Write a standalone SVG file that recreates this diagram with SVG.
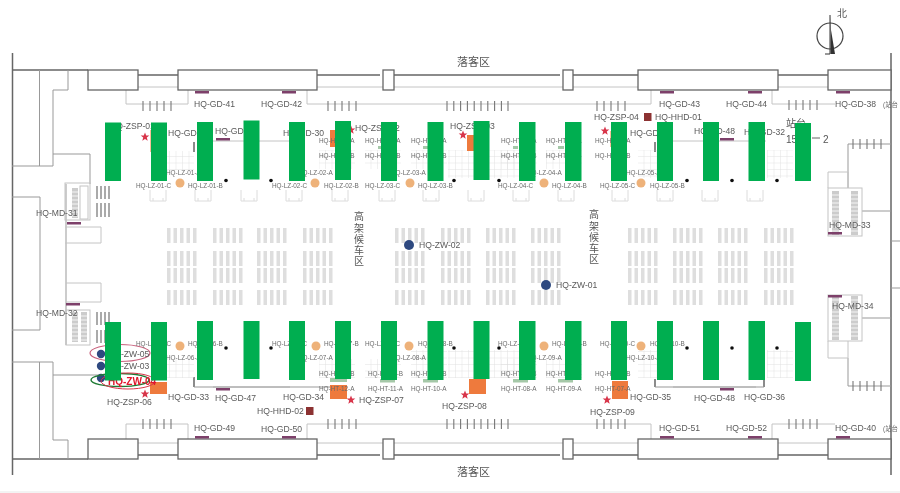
<svg xmlns="http://www.w3.org/2000/svg" xmlns:xlink="http://www.w3.org/1999/xlink" width="900" height="493" viewBox="0 0 900 493">
<style>
text{font-family:"Liberation Sans","Noto Sans CJK SC",sans-serif;fill:#5a5a5a}
.t{font-size:8.6px}
.s{font-size:6.4px;fill:#6a6a6a}
.c{font-size:10px;fill:#555}
.box{fill:#fff;stroke:#666;stroke-width:1.3}
.dk{fill:none;stroke:#666;stroke-width:1.5}
.lt{fill:none;stroke:#c4c4c4;stroke-width:1}
.md{fill:none;stroke:#999;stroke-width:1}
.tk{stroke:#777;stroke-width:1.1;fill:none}
.pu{fill:#7d3f6b}
.or{fill:#ee7a3c}
.orl{fill:#f6c09a}
.ci{fill:#eeb27a}
.dot{fill:#111}
.zw{fill:#2f4a80}
.rd{fill:#d8344a}
.sq{fill:#8c3232}
.st{fill:#dedede}
.br{fill:none;stroke:#dcdcdc;stroke-width:1}
.hg{fill:#a5c8a8}
.g{fill:#00ae50}
</style>
<defs>
<filter id="soft" filterUnits="userSpaceOnUse" x="0" y="0" width="900" height="493"><feGaussianBlur stdDeviation="0.45"/></filter>
<pattern id="grid" width="6.5" height="6.5" patternUnits="userSpaceOnUse"><path d="M0 0H6.5M0 0V6.5" fill="none" stroke="#dcdcdc" stroke-width="0.8"/></pattern>
<g id="row"><rect x="0" width="3.500" height="15" class="st"/><rect x="6.500" width="3.500" height="15" class="st"/><rect x="13" width="3.500" height="15" class="st"/><rect x="19.500" width="3.500" height="15" class="st"/><rect x="26" width="3.500" height="15" class="st"/></g>
<g id="block"><use xlink:href="#row" y="228"/><use xlink:href="#row" y="251"/><use xlink:href="#row" y="268"/><use xlink:href="#row" y="290"/></g>
<g id="t5"><path class="tk" d="M0 0v10M7 0v10M14 0v10M21 0v10M28 0v10"/></g>
<g id="t10"><path class="tk" d="M0 0v10M6.800 0v10M13.600 0v10M20.400 0v10M27.200 0v10M34 0v10M40.800 0v10M47.600 0v10M54.400 0v10M61 0v10"/></g>
<g id="brk"><path class="br" d="M0 2v11h16V2M3 13v-3M13 13v-3"/></g>
<g id="stair"><rect x="0" y="0" width="7" height="44" fill="#ccc"/><path d="M0 4h7M0 8h7M0 12h7M0 16h7M0 20h7M0 24h7M0 28h7M0 32h7M0 36h7M0 40h7" stroke="#fff" stroke-width="0.8"/></g>
<g id="stair2"><rect x="0" y="0" width="6" height="30" fill="#ccc"/><path d="M0 4h6M0 8h6M0 12h6M0 16h6M0 20h6M0 24h6M0 28h6" stroke="#fff" stroke-width="0.8"/></g>
<polygon id="star" points="0,-4.5 1.2,-1.4 4.3,-1.4 1.8,.6 2.7,3.7 0,1.9 -2.7,3.7 -1.8,.6 -4.3,-1.4 -1.2,-1.4"/>
</defs>
<rect width="900" height="493" fill="#fff"/>
<rect y="491" width="900" height="2" fill="#f3f3f3"/>
<g id="plan" filter="url(#soft)">
<g id="connectors">
<path class="dk" d="M12.500 53V475M891 53V475M12 70H88M12 459H88"/>
<path class="dk" d="M138 75H178M317 75H380M394 75H560M573 75H638M778 75H828M138 455H178M317 455H380M394 455H560M573 455H638M778 455H828"/>
<path class="lt" d="M138 87H178M317 87H383M394 87H563M573 87H638M778 87H828M138 443H178M317 443H383M394 443H563M573 443H638M778 443H828"/>
<path class="lt" d="M126 90V104H188V90M307 90V104H651V90M772 90V104H835M126 440V424H188V440M307 440V424H651V440M772 440V424H835"/>
<path class="md" d="M39.500 70V166M53 90V166M53 90H68V70M12 166H53M53 154H90V184M12 197H40V330H12M66 184V345M39.500 362V459M53 362V440H68V459M12 362H53M53 375H105M848 144H891M848 144V188M862 211H891M848 386H891M848 358V386M862 318H891M891 241H900M891 288H900"/>
<path class="lt" d="M213 141H290M673 141H766M213 387H290M673 387H756"/>
<path class="dk" d="M194 142V152M655 142V152M764 142V152M194 377V387M655 379V387M764 379V387" stroke-width="1.2"/>
<path class="md" d="M194 387H333M655 387H764" stroke="#bbb"/>
</g>
<g id="seats">
<use xlink:href="#block" x="167"/><use xlink:href="#block" x="213"/><use xlink:href="#block" x="257"/><use xlink:href="#block" x="303"/>
<use xlink:href="#block" x="395"/><use xlink:href="#block" x="441"/><use xlink:href="#block" x="486"/><use xlink:href="#block" x="531"/>
<use xlink:href="#block" x="628"/><use xlink:href="#block" x="673"/><use xlink:href="#block" x="718"/><use xlink:href="#block" x="764"/>
</g>
<g id="grids" fill="url(#grid)">
<rect x="167" y="151" width="27" height="19"/><rect x="319" y="150" width="36" height="19"/><rect x="365" y="150" width="36" height="19"/><rect x="411" y="150" width="36" height="19"/><rect x="448" y="150" width="26" height="28"/><rect x="489" y="150" width="30" height="28"/><rect x="501" y="150" width="36" height="19"/><rect x="546" y="150" width="36" height="19"/><rect x="638" y="150" width="19" height="28"/><rect x="767" y="150" width="26" height="28"/>
<rect x="167" y="359" width="27" height="19"/><rect x="319" y="359" width="36" height="19"/><rect x="365" y="359" width="36" height="19"/><rect x="411" y="350" width="36" height="28"/><rect x="448" y="350" width="26" height="28"/><rect x="489" y="350" width="30" height="28"/><rect x="501" y="359" width="36" height="19"/><rect x="546" y="359" width="36" height="19"/><rect x="638" y="350" width="19" height="28"/><rect x="767" y="350" width="26" height="28"/>
</g>
<g id="brackets">
<use xlink:href="#brk" x="150" y="188"/><use xlink:href="#brk" x="195" y="188"/><use xlink:href="#brk" x="241" y="188"/><use xlink:href="#brk" x="286" y="188"/><use xlink:href="#brk" x="332" y="188"/><use xlink:href="#brk" x="379" y="188"/><use xlink:href="#brk" x="423" y="188"/><use xlink:href="#brk" x="468" y="188"/><use xlink:href="#brk" x="513" y="188"/><use xlink:href="#brk" x="558" y="188"/><use xlink:href="#brk" x="612" y="188"/><use xlink:href="#brk" x="657" y="188"/><use xlink:href="#brk" x="702" y="188"/><use xlink:href="#brk" x="747" y="188"/>
</g>
<g id="ticks">
<use xlink:href="#t5" x="143" y="101"/><use xlink:href="#t5" x="328" y="101"/><use xlink:href="#t10" x="447" y="101"/><use xlink:href="#t5" x="597" y="101"/><use xlink:href="#t5" x="789" y="100"/>
<use xlink:href="#t5" x="143" y="419"/><use xlink:href="#t5" x="328" y="419"/><use xlink:href="#t10" x="447" y="419"/><use xlink:href="#t5" x="597" y="419"/><use xlink:href="#t5" x="789" y="419"/>
<use xlink:href="#t5" x="853" y="139"/><use xlink:href="#t5" x="853" y="381"/>
</g>
<g id="platform-doors">
<rect class="box" x="88" y="70" width="50" height="20"/><rect class="box" x="178" y="70" width="139" height="20"/><rect class="box" x="383" y="70" width="11" height="20"/><rect class="box" x="563" y="70" width="10" height="20"/><rect class="box" x="638" y="70" width="140" height="20"/><rect class="box" x="828" y="70" width="63" height="20"/>
<rect class="box" x="88" y="439" width="50" height="20"/><rect class="box" x="178" y="439" width="139" height="20"/><rect class="box" x="383" y="439" width="11" height="20"/><rect class="box" x="563" y="439" width="10" height="20"/><rect class="box" x="638" y="439" width="140" height="20"/><rect class="box" x="828" y="439" width="63" height="20"/>
</g>
<g id="stairs">
<rect x="65" y="183" width="25" height="37" class="lt"/><use xlink:href="#stair2" x="72" y="188"/><rect x="80" y="186" width="8" height="33" class="lt"/><path class="tk" d="M97 186v13M101 186v13M105 186v13M109 186v13M97 203v14M101 203v14M105 203v14M109 203v14" style="stroke:#aaa;stroke-width:2"/><path class="lt" d="M65 227H101V243H65"/>
<rect x="66" y="310" width="24" height="35" class="lt"/><use xlink:href="#stair2" x="72" y="312"/><use xlink:href="#stair2" x="81" y="312"/><path class="tk" d="M97 312v13M101 312v13M105 312v13M109 312v13M97 330v13M101 330v13M105 330v13M109 330v13" style="stroke:#aaa;stroke-width:2"/><path class="lt" d="M66 283H101V302H66"/>
<rect x="828" y="188" width="34" height="48" class="lt"/><use xlink:href="#stair" x="832" y="191"/><use xlink:href="#stair" x="851" y="191"/><path class="lt" d="M828 188V172H848V188"/>
<rect x="828" y="295" width="34" height="46" class="lt"/><use xlink:href="#stair" x="832" y="296"/><use xlink:href="#stair" x="851" y="296"/><path class="lt" d="M828 341V358H848V341"/>
</g>
<g id="facilities">
<g class="hg"><rect x="378" y="146" width="5" height="3"/><rect x="423" y="146" width="5" height="3"/><rect x="513" y="146" width="5" height="3"/><rect x="558" y="146" width="6" height="3"/><rect x="330" y="378" width="17" height="4"/><rect x="380" y="379" width="15" height="3.500"/><rect x="423" y="379" width="15" height="3.500"/><rect x="513" y="379" width="15" height="3.500"/><rect x="558" y="379" width="15" height="3.500"/></g>
<rect class="orl" x="150" y="130" width="10" height="22"/>
<rect class="or" x="330" y="130" width="21" height="17"/><rect class="or" x="467" y="135" width="22" height="16"/><rect class="orl" x="610" y="131" width="17" height="16"/>
<rect class="or" x="150" y="382" width="17" height="12"/><rect class="or" x="330" y="385" width="17" height="14"/><rect class="or" x="469" y="379" width="17" height="15"/><rect class="or" x="612" y="381" width="16" height="18"/>
<g class="pu"><rect x="195" y="91" width="14" height="2.500"/><rect x="282" y="91" width="14" height="2.500"/><rect x="660" y="91" width="14" height="2.500"/><rect x="748" y="91" width="14" height="2.500"/><rect x="836" y="91" width="14" height="2.500"/><rect x="195" y="436" width="14" height="2.500"/><rect x="282" y="436" width="14" height="2.500"/><rect x="660" y="436" width="14" height="2.500"/><rect x="748" y="436" width="14" height="2.500"/><rect x="836" y="436" width="14" height="2.500"/><rect x="216" y="138" width="14" height="2.500"/><rect x="720" y="138" width="14" height="2.500"/><rect x="216" y="388" width="14" height="2.500"/><rect x="720" y="388" width="14" height="2.500"/><rect x="67" y="222" width="14" height="2.500"/><rect x="66" y="303" width="14" height="2.500"/><rect x="828" y="232" width="14" height="2.500"/><rect x="828" y="295" width="14" height="2.500"/></g>
<g class="ci"><circle cx="180" cy="183" r="4.500"/><circle cx="315" cy="183" r="4.500"/><circle cx="410" cy="183" r="4.500"/><circle cx="544" cy="183" r="4.500"/><circle cx="641" cy="183" r="4.500"/><circle cx="180" cy="346" r="4.500"/><circle cx="316" cy="346" r="4.500"/><circle cx="409" cy="346" r="4.500"/><circle cx="544" cy="346" r="4.500"/><circle cx="641" cy="346" r="4.500"/></g>
<g class="dot"><circle cx="226" cy="180.500" r="1.800"/><circle cx="271" cy="180.500" r="1.800"/><circle cx="454" cy="180.500" r="1.800"/><circle cx="499" cy="180.500" r="1.800"/><circle cx="687" cy="180.500" r="1.800"/><circle cx="732" cy="180.500" r="1.800"/><circle cx="777" cy="180.500" r="1.800"/><circle cx="226" cy="348" r="1.800"/><circle cx="271" cy="348" r="1.800"/><circle cx="454" cy="348" r="1.800"/><circle cx="499" cy="348" r="1.800"/><circle cx="687" cy="348" r="1.800"/><circle cx="732" cy="348" r="1.800"/><circle cx="777" cy="348" r="1.800"/></g>
<g class="rd"><use xlink:href="#star" x="145" y="137"/><use xlink:href="#star" x="351" y="130"/><use xlink:href="#star" x="463" y="135"/><use xlink:href="#star" x="605" y="131"/><use xlink:href="#star" x="145" y="394"/><use xlink:href="#star" x="351" y="400"/><use xlink:href="#star" x="465" y="395"/><use xlink:href="#star" x="607" y="400"/></g>
<rect class="sq" x="644" y="113" width="7.500" height="8"/><rect class="sq" x="306" y="407" width="7.500" height="8"/>
<g class="zw"><circle cx="409" cy="245" r="5"/><circle cx="546" cy="285" r="5"/><circle cx="101" cy="354" r="4.200"/><circle cx="101" cy="366" r="4.200"/><circle cx="101" cy="378" r="4.200"/></g>
<ellipse cx="120" cy="353" rx="30" ry="8.500" fill="none" stroke="#c8607c" stroke-width="1.200"/>
<ellipse cx="120" cy="380" rx="29" ry="6.500" fill="none" stroke="#1f7a34" stroke-width="1.400"/>
<ellipse cx="128" cy="381" rx="27" ry="8" fill="none" stroke="#d8344a" stroke-width="1"/>
</g>
<g id="north">
<circle cx="830" cy="36" r="13" fill="none" stroke="#444" stroke-width="1.200"/>
<path d="M830.500 15V54L835 54L831 30Z" fill="#333"/><path d="M830 15V54L825 54" fill="none" stroke="#333" stroke-width="1"/>
<text class="c" x="842" y="17" text-anchor="middle">北</text>
</g>
<g id="labels">
<text class="c" x="473.500" y="65.500" text-anchor="middle" style="font-size:11px">落客区</text><text class="c" x="473.500" y="476" text-anchor="middle" style="font-size:11px">落客区</text>
<text class="c" x="359" y="220" text-anchor="middle">高</text><text class="c" x="359" y="232" text-anchor="middle">架</text><text class="c" x="359" y="243" text-anchor="middle">候</text><text class="c" x="359" y="254" text-anchor="middle">车</text><text class="c" x="359" y="265" text-anchor="middle">区</text><text class="c" x="594" y="218" text-anchor="middle">高</text><text class="c" x="594" y="230" text-anchor="middle">架</text><text class="c" x="594" y="241" text-anchor="middle">候</text><text class="c" x="594" y="252" text-anchor="middle">车</text><text class="c" x="594" y="263" text-anchor="middle">区</text>
<text class="c" x="786" y="127">站台</text><text class="c" x="786" y="143">15</text><path d="M812 138H820" stroke="#666"/><text class="c" x="823" y="143">2</text>
<text class="t" x="194" y="107">HQ-GD-41</text><text class="t" x="261" y="107">HQ-GD-42</text><text class="t" x="659" y="107">HQ-GD-43</text><text class="t" x="726" y="107">HQ-GD-44</text><text class="t" x="835" y="107">HQ-GD-38</text><text class="s" x="883" y="107">(站台</text>
<text class="t" x="110" y="129">HQ-ZSP-01</text><text class="t" x="168" y="136">HQ-GD-29</text><text class="t" x="215" y="134">HQ-GD-46</text><text class="t" x="283" y="136">HQ-GD-30</text><text class="t" x="355" y="131">HQ-ZSP-02</text><text class="t" x="450" y="129">HQ-ZSP-03</text><text class="t" x="594" y="120">HQ-ZSP-04</text><text class="t" x="655" y="120">HQ-HHD-01</text><text class="t" x="630" y="136">HQ-GD-31</text><text class="t" x="694" y="134">HQ-GD-48</text><text class="t" x="744" y="135">HQ-GD-32</text>
<text class="t" x="36" y="216">HQ-MD-31</text><text class="t" x="36" y="316">HQ-MD-32</text><text class="t" x="829" y="228">HQ-MD-33</text><text class="t" x="832" y="309">HQ-MD-34</text>
<text class="t" x="419" y="248">HQ-ZW-02</text><text class="t" x="556" y="288">HQ-ZW-01</text>
<text class="t" x="108" y="357">HQ-ZW-05</text><text class="t" x="108" y="369">HQ-ZW-03</text><text x="108" y="385" style="font-size:10px;font-weight:bold;fill:#e0182d">HQ-ZW-04</text>
<text class="t" x="107" y="405">HQ-ZSP-06</text><text class="t" x="168" y="400">HQ-GD-33</text><text class="t" x="215" y="401">HQ-GD-47</text><text class="t" x="283" y="400">HQ-GD-34</text><text class="t" x="257" y="414">HQ-HHD-02</text><text class="t" x="359" y="403">HQ-ZSP-07</text><text class="t" x="442" y="409">HQ-ZSP-08</text><text class="t" x="590" y="415">HQ-ZSP-09</text><text class="t" x="630" y="400">HQ-GD-35</text><text class="t" x="694" y="401">HQ-GD-48</text><text class="t" x="744" y="400">HQ-GD-36</text>
<text class="t" x="194" y="431">HQ-GD-49</text><text class="t" x="261" y="432">HQ-GD-50</text><text class="t" x="659" y="431">HQ-GD-51</text><text class="t" x="726" y="431">HQ-GD-52</text><text class="t" x="835" y="431">HQ-GD-40</text><text class="s" x="883" y="431">(站台</text>
<text class="s" x="136" y="188">HQ-LZ-01-C</text><text class="s" x="166" y="175">HQ-LZ-01-A</text><text class="s" x="188" y="188">HQ-LZ-01-B</text>
<text class="s" x="272" y="188">HQ-LZ-02-C</text><text class="s" x="298" y="175">HQ-LZ-02-A</text><text class="s" x="324" y="188">HQ-LZ-02-B</text>
<text class="s" x="365" y="188">HQ-LZ-03-C</text><text class="s" x="391" y="175">HQ-LZ-03-A</text><text class="s" x="418" y="188">HQ-LZ-03-B</text>
<text class="s" x="498" y="188">HQ-LZ-04-C</text><text class="s" x="527" y="175">HQ-LZ-04-A</text><text class="s" x="552" y="188">HQ-LZ-04-B</text>
<text class="s" x="600" y="188">HQ-LZ-05-C</text><text class="s" x="626" y="175">HQ-LZ-05-A</text><text class="s" x="650" y="188">HQ-LZ-05-B</text>
<text class="s" x="136" y="346">HQ-LZ-06-C</text><text class="s" x="166" y="360">HQ-LZ-06-A</text><text class="s" x="188" y="346">HQ-LZ-06-B</text>
<text class="s" x="272" y="346">HQ-LZ-07-C</text><text class="s" x="298" y="360">HQ-LZ-07-A</text><text class="s" x="324" y="346">HQ-LZ-07-B</text>
<text class="s" x="365" y="346">HQ-LZ-08-C</text><text class="s" x="391" y="360">HQ-LZ-08-A</text><text class="s" x="418" y="346">HQ-LZ-08-B</text>
<text class="s" x="498" y="346">HQ-LZ-09-C</text><text class="s" x="527" y="360">HQ-LZ-09-A</text><text class="s" x="552" y="346">HQ-LZ-09-B</text>
<text class="s" x="600" y="346">HQ-LZ-10-C</text><text class="s" x="626" y="360">HQ-LZ-10-A</text><text class="s" x="650" y="346">HQ-LZ-10-B</text>
<text class="s" x="319" y="143">HQ-HT-01-A</text><text class="s" x="365" y="143">HQ-HT-02-A</text><text class="s" x="411" y="143">HQ-HT-03-A</text><text class="s" x="501" y="143">HQ-HT-04-A</text><text class="s" x="546" y="143">HQ-HT-05-A</text><text class="s" x="595" y="143">HQ-HT-06-A</text>
<text class="s" x="319" y="158">HQ-HT-01-B</text><text class="s" x="365" y="158">HQ-HT-02-B</text><text class="s" x="411" y="158">HQ-HT-03-B</text><text class="s" x="501" y="158">HQ-HT-04-B</text><text class="s" x="546" y="158">HQ-HT-05-B</text><text class="s" x="595" y="158">HQ-HT-06-B</text>
<text class="s" x="319" y="376">HQ-HT-12-B</text><text class="s" x="368" y="376">HQ-HT-11-B</text><text class="s" x="411" y="376">HQ-HT-10-B</text><text class="s" x="501" y="376">HQ-HT-08-B</text><text class="s" x="546" y="376">HQ-HT-09-B</text><text class="s" x="595" y="376">HQ-HT-07-B</text>
<text class="s" x="319" y="391">HQ-HT-12-A</text><text class="s" x="368" y="391">HQ-HT-11-A</text><text class="s" x="411" y="391">HQ-HT-10-A</text><text class="s" x="501" y="391">HQ-HT-08-A</text><text class="s" x="546" y="391">HQ-HT-09-A</text><text class="s" x="595" y="391">HQ-HT-07-A</text>
</g>
</g>
<g id="bars" class="g">
<rect x="105" y="122.500" width="16" height="58.500"/><rect x="151" y="122.500" width="16" height="58.500"/><rect x="197" y="122" width="16" height="59"/><rect x="243.500" y="120.500" width="16" height="59"/><rect x="289" y="122" width="16" height="59"/><rect x="335" y="121" width="16" height="59"/><rect x="381" y="122" width="16" height="59"/><rect x="427.500" y="122" width="16" height="59"/><rect x="473.500" y="121" width="16" height="59"/><rect x="519" y="122" width="16.500" height="59"/><rect x="565" y="122" width="16.500" height="59"/><rect x="611" y="122" width="16" height="59"/><rect x="657" y="122" width="16" height="59"/><rect x="703" y="122" width="16" height="59"/><rect x="748.500" y="122" width="16.500" height="59"/><rect x="795" y="123" width="16" height="58"/>
<rect x="105" y="322" width="16" height="58.500"/><rect x="151" y="322" width="16" height="58.500"/><rect x="197" y="321" width="16" height="59"/><rect x="243.500" y="321" width="16" height="58"/><rect x="289" y="321" width="16" height="59"/><rect x="335" y="321" width="16" height="58"/><rect x="381" y="321" width="16" height="59"/><rect x="427.500" y="321" width="16" height="59"/><rect x="473.500" y="321" width="16" height="58"/><rect x="519" y="321" width="16.500" height="59"/><rect x="565" y="321" width="16.500" height="59"/><rect x="611" y="321" width="16" height="59"/><rect x="657" y="321" width="16" height="59"/><rect x="703" y="321" width="16" height="59"/><rect x="748.500" y="321" width="16.500" height="59"/><rect x="795" y="322" width="16" height="59"/>
</g>
</svg>
